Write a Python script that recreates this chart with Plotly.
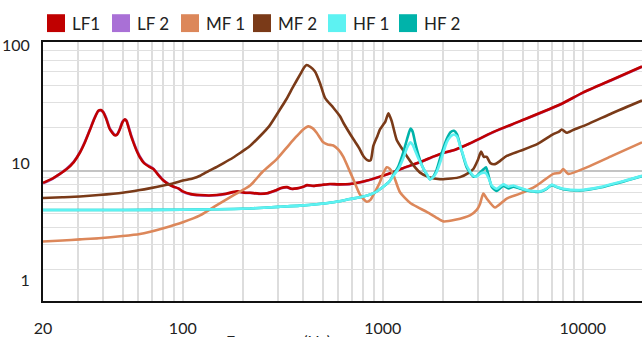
import math
import plotly.graph_objects as go

# ---- series data (frequency in Hz, magnitude) ----
lf1_freq = [20, 22, 24.3, 26.3, 28.5, 30.6, 32.5, 34.4, 36.2, 37.8, 39.0, 40.0, 41.5, 43.1, 45.7, 47.0,
            48.4, 50.0, 51.3, 52.3, 53.3, 55.0, 56.6, 58.5, 61.0, 64.0, 67.3, 71.3, 75.5, 80.0, 85, 90,
            95, 100, 110, 122, 135, 148, 165, 187, 205, 217, 240, 264, 290, 310, 332, 350, 372, 400,
            418, 450, 500, 544, 600, 685, 760, 834, 950, 1087, 1250, 1535, 1800, 2000, 2150, 2300,
            2700, 3557, 4853, 7692, 10000, 14000, 19770]
lf1_vals = [6.8, 7.3, 8.1, 8.9, 10.2, 12.3, 15.2, 19.3, 24.0, 27.8, 28.2, 27.0, 23.5, 19.5, 17.2, 17.5,
            19.3, 22.3, 23.5, 22.8, 20.6, 17.2, 15.0, 13.0, 11.2, 10.0, 9.4, 8.9, 7.9, 7.1, 6.6, 6.3,
            6.1, 5.75, 5.45, 5.35, 5.3, 5.35, 5.5, 5.75, 5.6, 5.6, 5.5, 5.55, 5.85, 6.15, 6.25, 6.05,
            6.1, 6.3, 6.5, 6.4, 6.55, 6.65, 6.6, 6.65, 6.85, 7.1, 7.6, 8.2, 9.0, 10.2, 11.4, 12.2,
            12.6, 13.0, 14.6, 18.3, 22.7, 31.4, 39.6, 51.0, 66.0]

lf2_freq = lf1_freq
lf2_vals = [6.75, 7.25, 8.1, 9.0, 10.3, 12.4, 15.4, 19.5, 24.2, 27.5, 27.9, 27.2, 24.0, 19.8, 17.4, 17.6,
            19.5, 22.6, 23.3, 23.0, 21.0, 17.6, 15.3, 13.2, 11.4, 10.1, 9.5, 8.95, 8.0, 7.15, 6.65, 6.3,
            6.1, 5.7, 5.4, 5.3, 5.28, 5.33, 5.48, 5.72, 5.58, 5.58, 5.48, 5.52, 5.82, 6.12, 6.22, 6.03,
            6.08, 6.28, 6.47, 6.38, 6.52, 6.62, 6.58, 6.63, 6.83, 7.08, 7.58, 8.18, 8.98, 10.15, 11.35,
            12.15, 12.55, 12.95, 14.55, 18.25, 22.6, 31.3, 39.5, 50.8, 65.8]

mf1_freq = [20, 25, 30.6, 38, 50, 61, 68, 80, 100, 122, 148, 178, 217, 250, 295, 340, 371, 400, 424,
            445, 467, 490, 504, 530, 566, 600, 635, 670, 712, 769, 831, 870, 893, 930, 968, 1000,
            1047, 1085, 1128, 1219, 1368, 1500, 1658, 1850, 2007, 2300, 2729, 2950, 3062, 3180, 3308,
            3640, 4164, 4853, 5880, 7120, 7700, 7990, 8460, 10460, 14000, 19770]
mf1_vals = [2.16, 2.2, 2.25, 2.3, 2.4, 2.5, 2.6, 2.8, 3.15, 3.6, 4.4, 5.3, 6.45, 8.4, 10.8, 14.3, 16.9,
            19.3, 20.5, 19.8, 18.1, 16.0, 15.0, 14.4, 14.1, 13.0, 11.3, 9.2, 7.3, 5.4, 4.7, 4.9, 5.3,
            6.0, 6.9, 8.0, 9.2, 8.9, 8.0, 5.65, 4.6, 4.2, 3.85, 3.45, 3.2, 3.3, 3.6, 4.0, 4.5, 5.5,
            5.0, 4.2, 5.0, 5.5, 6.45, 8.1, 8.3, 8.9, 8.1, 9.2, 11.5, 15.0]

mf2_freq = [20, 25, 30.6, 38, 50, 61, 68, 80, 90, 100, 112, 122, 135, 148, 160, 178, 195, 215, 243, 270,
            306, 330, 357, 385, 405, 416, 435, 458, 485, 514, 566, 611, 635, 712, 760, 799, 846, 870,
            897, 940, 968, 1005, 1030, 1066, 1090, 1110, 1174, 1250, 1317, 1420, 1535, 1700, 1932,
            2200, 2432, 2700, 2836, 2980, 3100, 3200, 3308, 3450, 3640, 3850, 4164, 4853, 5880, 7120,
            7600, 7843, 8100, 8310, 9000, 10460, 14000, 19770]
mf2_vals = [5.05, 5.12, 5.2, 5.35, 5.6, 5.9, 6.1, 6.45, 6.75, 7.1, 7.4, 7.8, 8.6, 9.3, 10.0, 11.1, 12.3,
            13.8, 16.9, 20.5, 28.5, 35.0, 44.8, 56.0, 65.0, 68.0, 65.5, 60.0, 47.9, 35.8, 29.5, 25.0,
            22.0, 16.0, 13.5, 11.5, 10.5, 10.6, 14.0, 17.0, 19.3, 21.2, 22.5, 26.4, 24.5, 22.5, 15.7,
            13.2, 11.5, 9.6, 8.3, 7.6, 7.3, 7.4, 7.6, 8.3, 8.9, 10.5, 12.5, 11.3, 11.3, 10.0, 9.8, 10.4,
            11.5, 12.7, 14.4, 17.6, 18.5, 19.3, 18.6, 18.1, 19.2, 21.2, 26.5, 34.0]

hf_freq = [20, 50, 100, 150, 217, 300, 385, 480, 566, 685, 800, 900, 1005, 1080, 1128, 1200, 1266,
           1330, 1375, 1410, 1450, 1505, 1580, 1658, 1722, 1790, 1860, 1950, 2087, 2180, 2270, 2350,
           2432, 2530, 2628, 2836, 2950, 3062, 3200, 3281, 3400, 3504, 3710, 4003, 4250, 4493, 4800,
           5240, 6109, 6600, 6992, 7400, 7990, 9683, 12190, 15350, 19770]
hf1_vals = [4.0, 4.0, 4.02, 4.05, 4.12, 4.25, 4.35, 4.5, 4.65, 4.95, 5.2, 5.55, 6.3, 7.0, 7.8, 9.0,
            11.0, 13.8, 15.0, 14.3, 12.8, 11.0, 9.3, 8.1, 7.3, 7.6, 8.4, 10.5, 15.0, 16.8, 17.5, 16.8,
            14.1, 11.5, 9.5, 7.8, 7.7, 8.1, 8.3, 8.2, 7.3, 6.45, 6.05, 6.6, 6.3, 6.45, 6.2, 5.9, 5.75,
            6.1, 6.55, 6.3, 6.05, 5.9, 6.25, 6.9, 7.8]
hf2_vals = [4.0, 4.0, 4.02, 4.05, 4.12, 4.25, 4.35, 4.5, 4.65, 4.95, 5.2, 5.55, 6.3, 7.0, 7.9, 9.5,
            12.3, 16.5, 19.6, 18.5, 15.0, 11.8, 9.3, 8.0, 7.3, 7.7, 8.8, 11.5, 16.0, 18.3, 18.8, 17.5,
            14.3, 11.3, 9.2, 7.7, 7.8, 8.3, 8.9, 9.2, 7.5, 6.3, 5.8, 6.4, 6.1, 6.3, 6.1, 5.85, 5.7,
            6.05, 6.5, 6.25, 6.0, 5.85, 6.2, 6.85, 7.75]

series_names = ["LF1", "LF 2", "MF 1", "MF 2", "HF 1", "HF 2"]
series_colors = ["#c00000", "#a970d6", "#dc875a", "#7a3a18", "#5df2f2", "#00b3aa"]

x_tickvals = [20, 100, 1000, 10000]
x_ticktext = ["20", "100", "1000", "10000"]
y_tickvals = [1, 10, 100]
y_ticktext = ["1", "10", "100"]

FONT = "Lato, 'Open Sans', sans-serif"
TEXT = "#222222"

fig = go.Figure()

# draw order: purple under red, teal under light cyan
draw = [
    ("LF 2", lf2_freq, lf2_vals),
    ("LF1", lf1_freq, lf1_vals),
    ("MF 1", mf1_freq, mf1_vals),
    ("MF 2", mf2_freq, mf2_vals),
    ("HF 2", hf_freq, hf2_vals),
    ("HF 1", hf_freq, hf1_vals),
]
for name, xs, ys in draw:
    col = series_colors[series_names.index(name)]
    fig.add_trace(go.Scatter(x=xs, y=ys, mode="lines", name=name, showlegend=False,
                             line=dict(color=col, width=2.6, shape="spline", smoothing=0.6)))

# carrier for the grid axis (no marks)
fig.add_trace(go.Scatter(x=[], y=[], yaxis="y2", showlegend=False, hoverinfo="skip"))

x0 = math.log10(20)
fig.update_layout(
    width=642, height=337,
    margin=dict(l=43, r=0, t=42, b=34),
    paper_bgcolor="white", plot_bgcolor="white",
    font=dict(family=FONT, color=TEXT, size=16),
    xaxis=dict(
        type="log", range=[x0, x0 + 599 / 200],
        tickmode="array", tickvals=x_tickvals, ticktext=x_ticktext,
        ticks="", ticklabelstandoff=12,
        tickfont=dict(size=16, color=TEXT),
        showgrid=True, gridcolor="#dddddd", gridwidth=1.5,
        minor=dict(tickmode="array",
                   tickvals=[30, 40, 50, 60, 70, 80, 90, 200, 300, 400, 500, 600, 700, 800, 900,
                             2000, 3000, 4000, 5000, 6000, 7000, 8000, 9000, 20000],
                   showgrid=True, gridcolor="#dddddd", gridwidth=1.5, ticks=""),
        showline=True, linecolor="#111111", linewidth=2, mirror=True,
        zeroline=False,
    ),
    yaxis=dict(
        type="log", range=[-0.171, 2.028],
        tickmode="array", tickvals=y_tickvals, ticktext=y_ticktext,
        ticks="", ticklabelstandoff=8,
        tickfont=dict(size=16, color=TEXT),
        showgrid=False, zeroline=False,
        showline=True, linecolor="#111111", linewidth=2, mirror=False,
    ),
    yaxis2=dict(
        type="log", range=[0.081, 1.906], overlaying="y", anchor="x", side="left",
        tickmode="array", tickvals=[10], showticklabels=False, ticks="",
        showgrid=True, gridcolor="#c4c4c4", gridwidth=2,
        minor=dict(tickmode="array",
                   tickvals=[2, 3, 4, 5, 6, 7, 8, 9, 20, 30, 40, 50, 60, 70, 80, 90],
                   showgrid=True, gridcolor="#e0e0e0", gridwidth=1.2, ticks=""),
        showline=False, zeroline=False,
    ),
)

# legend row: colour swatches with labels
legend_x = [47, 112, 181, 253, 328, 399]
W, H = 642, 337
L, T, B = 43, 42, 34
PW, PH = W - L, H - T - B


def px_to_paper(px, py):
    return (px - L) / PW, (H - B - py) / PH


for name, col, lx in zip(series_names, series_colors, legend_x):
    xa, ya = px_to_paper(lx, 14)
    xb, yb = px_to_paper(lx + 18, 32)
    fig.add_shape(type="rect", xref="paper", yref="paper", x0=xa, x1=xb, y0=yb, y1=ya,
                  fillcolor=col, line=dict(width=0), layer="above")
    tx, ty = px_to_paper(lx + 23, 23)
    fig.add_annotation(text=name, xref="paper", yref="paper", x=tx, y=ty,
                       xanchor="left", yanchor="middle", showarrow=False,
                       font=dict(size=17, color=TEXT, family=FONT))

# axis title, mostly below the visible area
ax, ay = px_to_paper(278, 331)
fig.add_annotation(text="Frequency (Hz)", xref="paper", yref="paper", x=ax, y=ay,
                   xanchor="center", yanchor="top", showarrow=False,
                   font=dict(size=16, color=TEXT, family=FONT))

fig.write_html("out.html")
